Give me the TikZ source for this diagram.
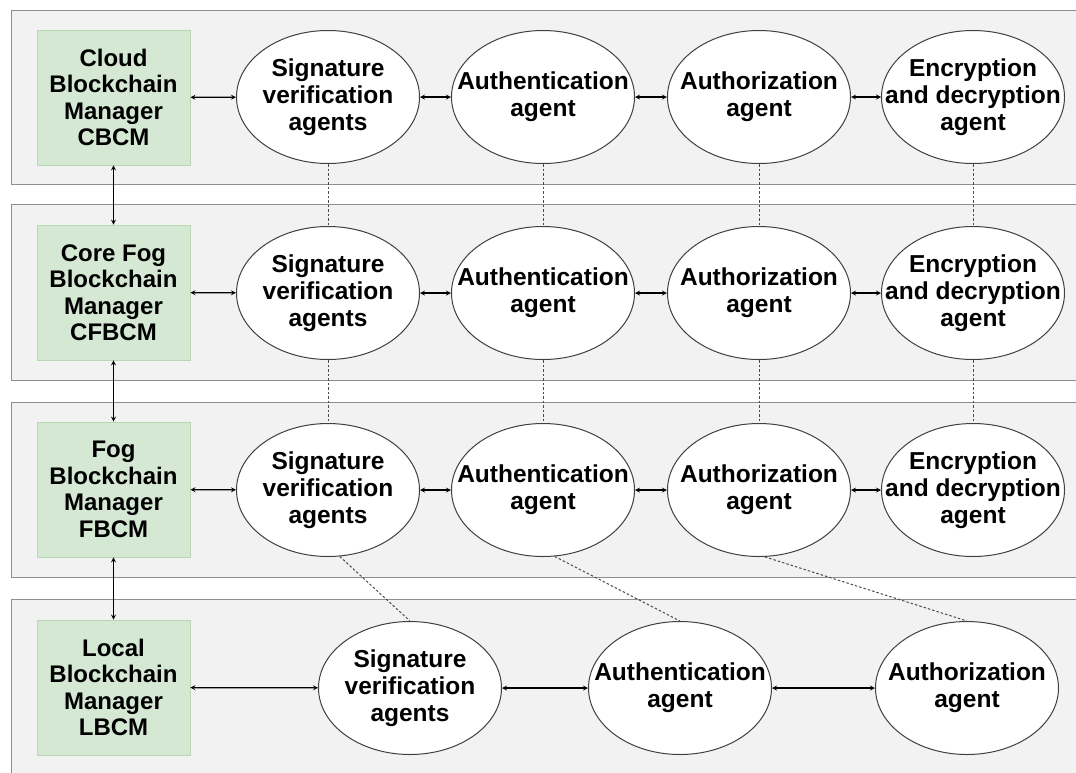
\documentclass[tikz,border=0pt]{standalone}
\usepackage{fontspec}
\setmainfont{Liberation Sans}
\usetikzlibrary{shapes.geometric}

\definecolor{layerfill}{HTML}{F2F2F2}
\definecolor{layerline}{HTML}{8E8E8E}
\definecolor{mgrfill}{HTML}{D5E8D4}
\definecolor{mgrline}{HTML}{B9D6B3}

\tikzset{
  layer/.style={fill=layerfill, draw=layerline, line width=1pt},
  manager/.style={rectangle, fill=mgrfill, draw=mgrline, line width=0.8pt,
    minimum width=153pt, minimum height=135pt, inner sep=0pt, align=center,
    font=\bfseries\fontsize{24}{26.5}\selectfont},
  agent/.style={ellipse, draw=black!75, fill=white, line width=1pt,
    minimum width=183pt, minimum height=133pt, inner xsep=-45pt, inner ysep=0pt,
    align=center, font=\bfseries\fontsize{24.5}{27}\selectfont},
  link/.style={<->, >=stealth, line width=1.2pt},
  tie/.style={dash pattern=on 2.5pt off 2pt, line width=1pt, black!70}
}

\begin{document}
\begin{tikzpicture}[x=1pt, y=-1pt]
    \useasboundingbox (0,0) rectangle (1076,772);
    \clip (0,0) rectangle (1076,772);

    % layers
    \foreach \top/\bot in {10/184, 204/380, 402/577, 599/790}
        \draw[layer] (11,\top) rectangle (1100,\bot);

    % blockchain managers
    \node[manager] (cbcm) at (113.5,97.5) {Cloud\\Blockchain\\Manager\\CBCM};
    \node[manager] (cfbcm) at (113.5,292.5) {Core Fog\\Blockchain\\Manager\\CFBCM};
    \node[manager] (fbcm) at (113.5,489.5) {Fog\\Blockchain\\Manager\\FBCM};
    \node[manager] (lbcm) at (113.5,687.5) {Local\\Blockchain\\Manager\\LBCM};

    % agents of the upper three layers
    \foreach \r/\y in {1/97, 2/293, 3/490} {
        \node[agent] (sig\r) at (328,\y) {Signature\\verification\\agents};
        \node[agent] (auth\r) at (543,\y) {Authentication\\agent};
        \node[agent] (autz\r) at (759,\y) {Authorization\\agent};
        \node[agent] (enc\r) at (973,\y) {Encryption\\and decryption\\agent};
    }

    % agents of the local layer
    \node[agent] (sig4) at (410,688) {Signature\\verification\\agents};
    \node[agent] (auth4) at (680,688) {Authentication\\agent};
    \node[agent] (autz4) at (967,688) {Authorization\\agent};

    % links inside each layer
    \foreach \m/\r in {cbcm/1, cfbcm/2, fbcm/3} {
        \draw[link] (\m) -- (sig\r);
        \draw[link] (sig\r) -- (auth\r);
        \draw[link] (auth\r) -- (autz\r);
        \draw[link] (autz\r) -- (enc\r);
    }
    \draw[link] (lbcm) -- (sig4);
    \draw[link] (sig4) -- (auth4);
    \draw[link] (auth4) -- (autz4);

    % links between managers
    \draw[link] (cbcm) -- (cfbcm);
    \draw[link] (cfbcm) -- (fbcm);
    \draw[link] (fbcm) -- (lbcm);

    % dotted ties between layers
    \foreach \a in {sig, auth, autz, enc} {
        \draw[tie] (\a1) -- (\a2);
        \draw[tie] (\a2) -- (\a3);
    }
    \draw[tie] (sig3.-80) -- (sig4.north);
    \draw[tie] (auth3.-80) -- (auth4.north);
    \draw[tie] (autz3.-85) -- (autz4.north);
\end{tikzpicture}
\end{document}
